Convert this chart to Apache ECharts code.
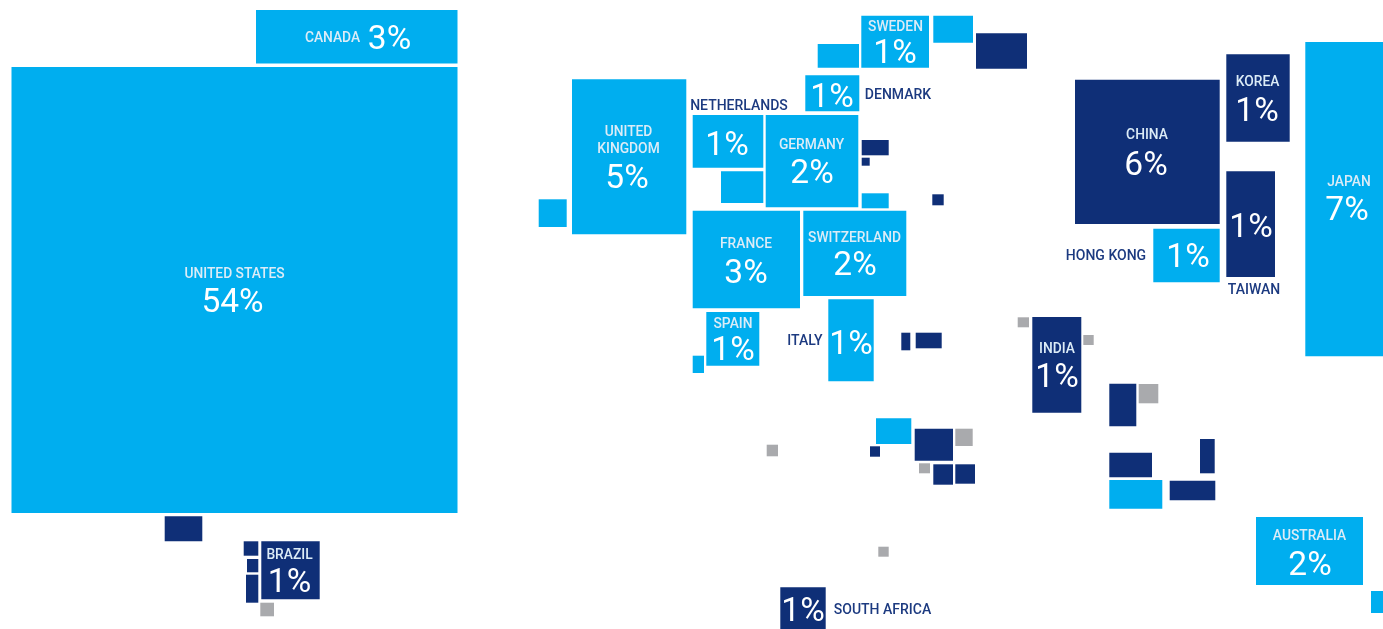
<!DOCTYPE html>
<html><head><meta charset="utf-8">
<style>html,body{margin:0;padding:0;background:#fff}#c{width:1383px;height:629px}</style>
<script src="https://cdn.jsdelivr.net/npm/echarts@6/dist/echarts.min.js"></script>
</head><body><div id="c"></div>
<script>
// Cells: [left, top, right, bottom] in map units
const lightCells = [
 [11.5,67,457.5,513],[256,10,457.5,63.5],[861.3,15.7,929,67.7],[933.3,15.7,973,42.7],[817.7,44,859,67.7],
 [805.3,75.3,859.3,111.3],[572,79.3,686.3,234.3],[692.7,115,763.3,167.7],[721,171.3,763.3,203],
 [765.7,115,858.3,207.3],[861.7,193.3,888.7,208.3],[538.7,199.3,566.7,227],[692.7,210.7,800,308.3],
 [803.3,210.7,906.3,296],[706.3,312,759.3,365.7],[692.7,355.7,704,373],[828.3,299.3,873.7,381.3],
 [1153.3,228.7,1219.7,282.3],[1305.3,42,1383,356.3],[1109.3,480,1162.3,508.7],[876,418.3,911.3,444],
 [1256,517,1363,585],[1371,591,1383,613]
];
const darkCells = [
 [976,33.3,1027,68.7],[861.7,140,888.7,155.3],[861.7,157.7,869.7,165.7],[932.3,194.3,943.7,205.3],
 [901.3,332.7,910.3,350.3],[915.7,332.7,941.7,348.3],[1075,79.7,1219.7,224],[1226.3,54.3,1289.7,141.7],
 [1226.3,171.3,1275,277],[1032.3,317,1081.3,412.7],[1109.3,383.7,1136.3,426.3],[1109.3,452.7,1152,477.3],
 [1200,439,1214.7,473.3],[1169.7,480.7,1215.3,500.3],[914.7,428.7,953,460.7],[870,446.3,880,456.7],
 [933.3,464.3,953,484.7],[955.3,464.3,975,483.7],[780.3,587.3,825.7,629],[261.3,541.3,319.7,599.3],
 [164.7,516.3,202.3,541.3],[243.7,541.3,258.3,555.7],[247,559,258.3,572.3],[246,574.7,258.3,602.7]
];
const grayCells = [
 [1017.7,317.3,1029,327.3],[1083.3,335,1093.7,345],[1138.7,384,1158.3,403.3],[955.3,428.7,972.7,446],
 [919,463.3,930,473.3],[766.7,444.7,778,456.3],[878.3,546.7,888.7,556.7],[260.3,602.7,274,616.3]
];
// Country labels on the cell: [text, x, y]
const namesInside = [
 ["UNITED STATES",234.5,274.5],["CANADA",332.5,38.5],["SWEDEN",895.5,28],["UNITED",628.5,133],["KINGDOM",628.5,149.5],
 ["GERMANY",811.5,146],["FRANCE",746,244.5],["SWITZERLAND",854.5,238.5],["SPAIN",733,324.5],["CHINA",1147,136],
 ["KOREA",1257.5,83],["JAPAN",1349,183],["INDIA",1057,350],["AUSTRALIA",1309.5,536.5],["BRAZIL",289.5,555.5]
];
// Country labels beside the cell
const namesOutside = [
 ["NETHERLANDS",739,106],["DENMARK",898,95],["ITALY",805,341.5],["TAIWAN",1254,290],["HONG KONG",1106,256],["SOUTH AFRICA",882.5,610]
];
const shares = [
 ["54%",232.5,304],["3%",389.5,41],["1%",895,54.5],["5%",627,179.5],["1%",727,146.5],["1%",832,98.5],["2%",812,174.5],
 ["3%",746,274.5],["2%",855,267],["1%",733,351.5],["1%",851,345.5],["6%",1146,166.5],["1%",1257,112.5],["1%",1251,228.5],
 ["1%",1188,258.5],["7%",1347,211.5],["1%",1057,378.5],["2%",1310,566.5],["1%",289.5,584],["1%",803,613]
];
const LIGHT='#00aeef', DARK='#0f2f77', GRAY='#a9aaad';
const font='Roboto';
function cellSeries(cells,color){
  return {type:'custom',data:cells,silent:true,animation:false,
    encode:{x:[0,2],y:[1,3]},
    renderItem(p,api){
      const a=api.coord([api.value(0),api.value(1)]), b=api.coord([api.value(2),api.value(3)]);
      return {type:'rect',shape:{x:a[0],y:a[1],width:b[0]-a[0],height:b[1]-a[1]},style:{fill:color}};
    }};
}
function textSeries(items,color,size,weight){
  return {type:'custom',data:items.map(d=>[d[1],d[2],d[0]]),silent:true,animation:false,z:5,
    encode:{x:0,y:1},
    renderItem(p,api){
      const a=api.coord([api.value(0),api.value(1)]);
      return {type:'text',x:a[0],y:a[1],style:{text:items[p.dataIndex][0],fill:color,
        font:`${weight} ${size}px ${font}`,textAlign:'center',textVerticalAlign:'middle'}};
    }};
}
const chart=echarts.init(document.getElementById('c'),null,{renderer:'canvas'});
chart.setOption({
  backgroundColor:'#fff',animation:false,
  grid:{left:0,right:0,top:0,bottom:0},
  xAxis:{type:'value',min:0,max:1383,show:false},
  yAxis:{type:'value',min:0,max:629,inverse:true,show:false},
  series:[
    cellSeries(lightCells,LIGHT),cellSeries(darkCells,DARK),cellSeries(grayCells,GRAY),
    textSeries(namesInside,'#dcecf7',13.8,500),
    textSeries(namesOutside,'#1c3a80',14,500),
    textSeries(shares,'#ffffff',33.5,400)
  ]
});
</script></body></html>
